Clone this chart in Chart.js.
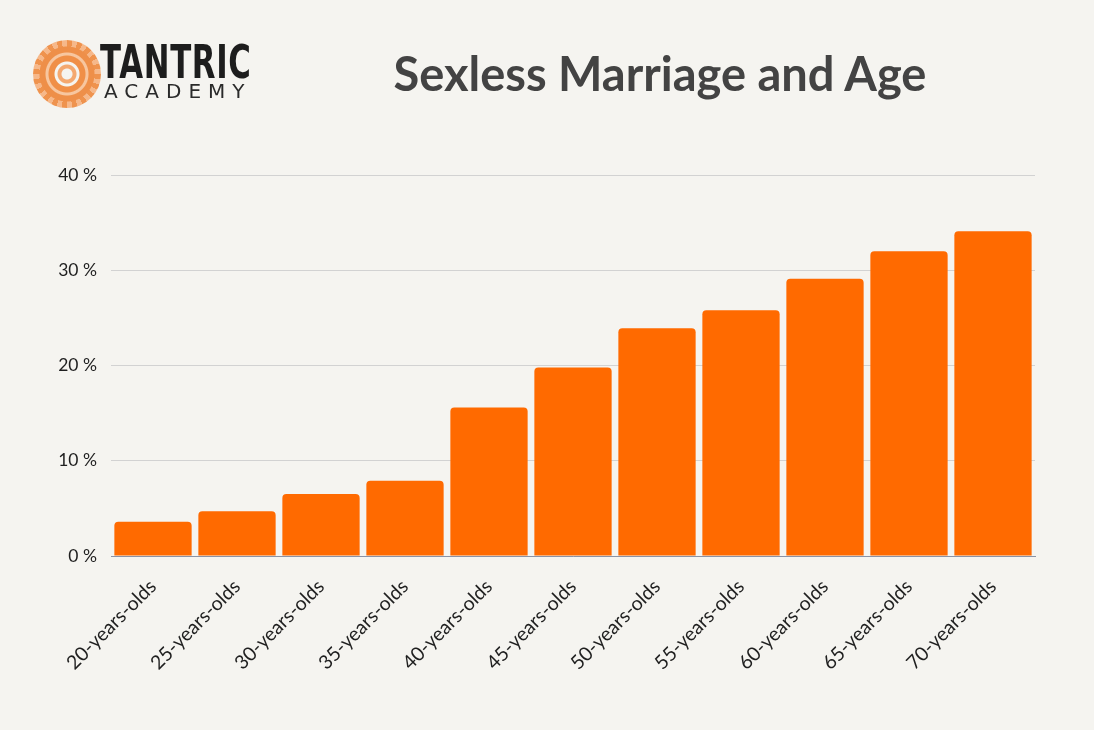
<!DOCTYPE html>
<html>
<head>
<meta charset="utf-8">
<script src="https://cdn.jsdelivr.net/npm/chart.js@4.4.1/dist/chart.umd.min.js"></script>
<style>
  html, body { margin: 0; padding: 0; background: #F5F4F0; }
  #wrap { position: relative; width: 1094px; height: 730px; background: #F5F4F0; overflow: hidden; }
  #chartBox { position: absolute; left: 0; top: 0; width: 1094px; height: 730px; }
  #title { position: absolute; left: 360px; width: 600px; top: 45px; text-align: center;
    font-family: Lato, "Open Sans", sans-serif; font-weight: 700; font-size: 47px; color: #434343; line-height: 56px; }
  #logoMark { position: absolute; left: 33px; top: 40px; width: 68px; height: 68px; border-radius: 50%;
    background:
      radial-gradient(circle, #F5F4F0 0 5px, #F4A468 6px 9px, #F5F4F0 10px 12px, #F08A3E 13px 18px, #F7C39A 19px 21px, #EE8A40 22px 27px, rgba(0,0,0,0) 28px),
      repeating-conic-gradient(#EF8E45 0deg 9deg, #F6B584 9deg 18deg);
    opacity: 0.95; }
  #logoText1 { position: absolute; left: 100px; top: 36px; font-family: "DejaVu Sans", sans-serif; font-weight: 700;
    font-size: 47px; color: #1d1d1d; letter-spacing: 1px; line-height: 52px; transform: scaleX(0.655); transform-origin: left; }
  #logoText2 { position: absolute; left: 104px; top: 80px; font-family: "DejaVu Sans", sans-serif; font-weight: 400;
    font-size: 20px; color: #2a2a2a; letter-spacing: 7px; line-height: 22px; }
</style>
</head>
<body>
<div id="wrap">
  <div id="chartBox"><canvas id="c" width="1094" height="730"></canvas></div>
  <div id="logoMark"></div>
  <div id="logoText1">TANTRIC</div>
  <div id="logoText2">ACADEMY</div>
  <div id="title">Sexless Marriage and Age</div>
</div>
<script>
const categories = ["20-years-olds", "25-years-olds", "30-years-olds", "35-years-olds", "40-years-olds",
  "45-years-olds", "50-years-olds", "55-years-olds", "60-years-olds", "65-years-olds", "70-years-olds"];
const sexlessShare = [3.6, 4.7, 6.5, 7.9, 15.6, 19.8, 23.9, 25.8, 29.1, 32.0, 34.1];
const yTickValues = [0, 10, 20, 30, 40];
const yTickSuffix = " %";

const ctx = document.getElementById("c");
new Chart(ctx, {
  type: "bar",
  data: {
    labels: categories,
    datasets: [{
      data: sexlessShare,
      backgroundColor: "#FF6A00",
      borderWidth: 0,
      borderRadius: { topLeft: 4, topRight: 4, bottomLeft: 0, bottomRight: 0 },
      borderSkipped: false,
      categoryPercentage: 0.92,
      barPercentage: 1.0
    }]
  },
  options: {
    responsive: false,
    animation: false,
    devicePixelRatio: 1,
    layout: { padding: { top: 175, right: 59, bottom: 0, left: 0 } },
    plugins: { legend: { display: false }, tooltip: { enabled: false }, title: { display: false } },
    scales: {
      x: {
        offset: true,
        grid: { display: false, drawTicks: false },
        border: { display: true, color: "#8a93a6", width: 1 },
        ticks: {
          minRotation: 45, maxRotation: 45, autoSkip: false, padding: 19,
          color: "#1f1f1f",
          font: { family: "Lato, 'Open Sans', sans-serif", size: 19.5 }
        },
        afterFit: (s) => { s.height = 174; }
      },
      y: {
        min: 0, max: 40,
        afterBuildTicks: (s) => { s.ticks = yTickValues.map(v => ({ value: v })); },
        grid: { color: "#d2d2d2", lineWidth: 1, drawTicks: false },
        border: { display: false },
        ticks: {
          padding: 14,
          color: "#1f1f1f",
          font: { family: "Lato, 'Open Sans', sans-serif", size: 17.5 },
          callback: (v) => v + yTickSuffix
        },
        afterFit: (s) => { s.width = 111; }
      }
    }
  }
});
</script>
</body>
</html>
